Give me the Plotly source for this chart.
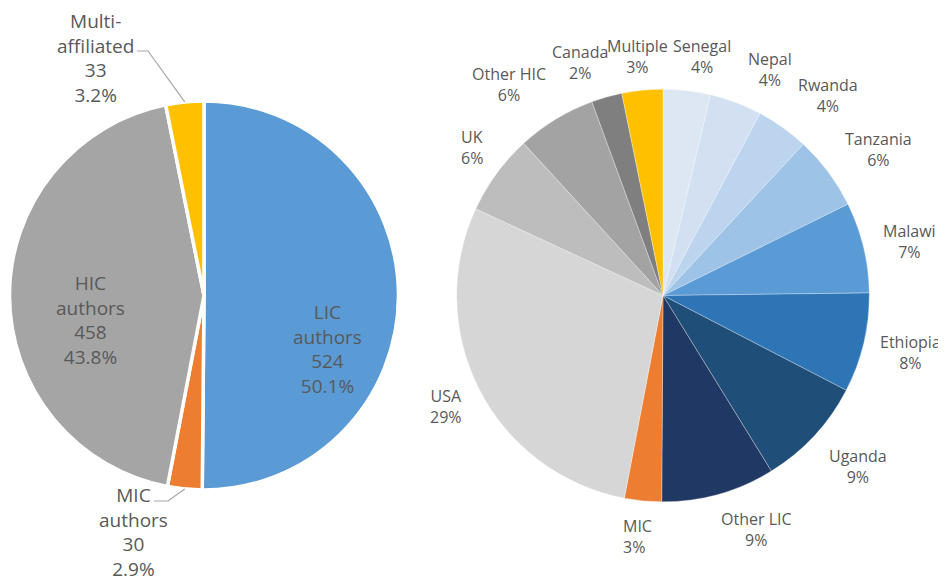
import math
import plotly.graph_objects as go

# ---------------- data ----------------
left_labels = ["LIC authors", "MIC authors", "HIC authors", "Multi-affiliated"]
left_values = [524, 30, 458, 33]
left_colors = ["#5b9bd5", "#ed7d31", "#a5a5a5", "#ffc000"]

right_labels = ["Senegal", "Nepal", "Rwanda", "Tanzania", "Malawi", "Ethiopia", "Uganda",
                "Other LIC", "MIC", "USA", "UK", "Other HIC", "Canada", "Multiple"]
right_values = [3.7, 4.1, 4.1, 5.8, 7.1, 7.8, 8.6, 8.9, 2.9, 28.9, 6.3, 6.2, 2.4, 3.2]
right_colors = ["#dde7f4", "#d2e0f1", "#bcd4ee", "#9dc3e6", "#5b9bd5", "#2e75b6", "#1f4e79",
                "#203864", "#ed7d31", "#d6d6d6", "#bdbdbd", "#a3a3a3", "#7f7f7f", "#ffc000"]

# page body has an 8px default margin; the figure fills the rest of the window
OFF = 8
W, H = 946 - OFF, 582 - OFF
FONT = "Open Sans"
TXT = "#595959"


def px(x):
    return (x - OFF) / W


def py(y):
    return 1 - (y - OFF) / H


# pie geometry (window pixels)
LC, LR = (204, 295.5), 194.5
RC, RR = (663, 295.5), 206.3

fig = go.Figure()
fig.add_trace(go.Pie(
    labels=left_labels, values=left_values, sort=False, direction="clockwise", rotation=0,
    marker=dict(colors=left_colors, line=dict(color="white", width=3.5)),
    textinfo="none", hoverinfo="label+value+percent", showlegend=False,
    domain=dict(x=[px(LC[0] - LR), px(LC[0] + LR)], y=[py(LC[1] + LR), py(LC[1] - LR)]),
))
fig.add_trace(go.Pie(
    labels=right_labels, values=right_values, sort=False, direction="clockwise", rotation=0,
    marker=dict(colors=right_colors, line=dict(color="rgba(255,255,255,0.5)", width=0.6)),
    textinfo="none", hoverinfo="label+percent", showlegend=False,
    domain=dict(x=[px(RC[0] - RR), px(RC[0] + RR)], y=[py(RC[1] + RR), py(RC[1] - RR)]),
))

annotations = []
shapes = []

# ---- left pie labels ----
ltot = sum(left_values)
left_text = {
    "LIC authors": "LIC<br>authors",
    "MIC authors": "MIC<br>authors",
    "HIC authors": "HIC<br>authors",
    "Multi-affiliated": "Multi-<br>affiliated",
}
left_pos = {  # label block centres (window pixels)
    "LIC authors": (327, 349),
    "MIC authors": (133, 532),
    "HIC authors": (90, 320),
    "Multi-affiliated": (95, 58),
}
for lab, v in zip(left_labels, left_values):
    x, y = left_pos[lab]
    annotations.append(dict(
        x=px(x), y=py(y), xref="paper", yref="paper", xanchor="center", yanchor="middle",
        text=f"{left_text[lab]}<br>{v}<br>{v / ltot * 100:.1f}%", showarrow=False,
        align="center", font=dict(family=FONT, size=19, color=TXT)))

# leader lines for the small outside slices
cum = 0
mid_angles = {}
for lab, v in zip(left_labels, left_values):
    mid_angles[lab] = (cum + v / 2) / ltot * 2 * math.pi
    cum += v


def edge(lab):
    a = mid_angles[lab]
    return LC[0] + LR * math.sin(a), LC[1] - LR * math.cos(a)


ex, ey = edge("Multi-affiliated")
shapes.append(dict(type="path", xref="paper", yref="paper",
                   path=f"M {px(137)} {py(51)} L {px(148)} {py(51)} L {px(ex)} {py(ey)}",
                   line=dict(color="#a6a6a6", width=1.2)))
ex, ey = edge("MIC authors")
shapes.append(dict(type="path", xref="paper", yref="paper",
                   path=f"M {px(154)} {py(501)} L {px(168)} {py(501)} L {px(ex)} {py(ey)}",
                   line=dict(color="#a6a6a6", width=1.2)))

# ---- right pie labels ----
right_pos = {
    "Senegal": (702, 56.5, "center"),
    "Nepal": (770, 69, "center"),
    "Rwanda": (828, 96, "center"),
    "Tanzania": (878, 149.5, "center"),
    "Malawi": (909, 241, "center"),
    "Ethiopia": (910, 353, "center"),
    "Uganda": (858, 466, "center"),
    "Other LIC": (756, 529, "center"),
    "MIC": (621, 536, "left"),
    "USA": (446, 406, "center"),
    "UK": (459, 147, "left"),
    "Other HIC": (509, 84, "center"),
    "Canada": (580, 62.5, "center"),
    "Multiple": (637, 56.5, "center"),
}
rtot = sum(right_values)
for lab, v in zip(right_labels, right_values):
    x, y, anc = right_pos[lab]
    annotations.append(dict(
        x=px(x), y=py(y), xref="paper", yref="paper", xanchor=anc, yanchor="middle",
        text=f"{lab}<br>{round(v / rtot * 100)}%", showarrow=False, align=anc,
        font=dict(family=FONT, size=16, color=TXT)))

fig.update_layout(
    width=W, height=H, margin=dict(l=0, r=0, t=0, b=0),
    paper_bgcolor="white", plot_bgcolor="white",
    annotations=annotations, shapes=shapes,
)
fig.write_html("out.html")
